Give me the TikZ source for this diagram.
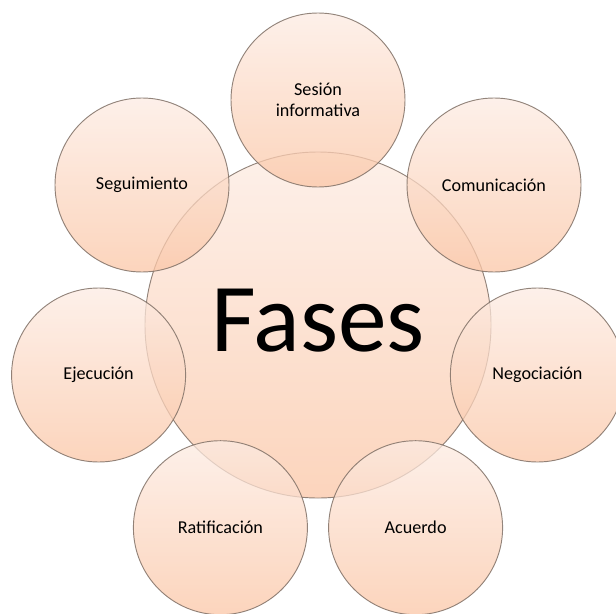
\documentclass[tikz,border=0pt]{standalone}
\usepackage{fontspec}
\setmainfont{Carlito}
\definecolor{bubtop}{RGB}{252,235,226}
\definecolor{bubbot}{RGB}{251,198,166}
\definecolor{bubline}{RGB}{128,112,102}
\begin{document}
\begin{tikzpicture}[x=0.75pt,y=-0.75pt]
\tikzset{
  bub/.style={circle, inner sep=0pt, draw=bubline, line width=0.7pt,
    top color=bubtop, bottom color=bubbot, fill opacity=0.75, draw opacity=0.85,
    text opacity=1, text=black, align=center,
    font=\fontsize{13.6}{16}\selectfont},
  small/.style={bub, minimum size=130.5pt},
  big/.style={bub, minimum size=259.5pt},
  bigtext/.style={text=black, inner sep=0pt, font=\fontsize{73}{80}\selectfont}
}
\useasboundingbox (0,0) rectangle (616,613);
\node[big] (c) at (318,325) {};
\node[bigtext] (fases) at (318,321) {Fases};
\node[small] (s1) at (318,100) {Sesión\\informativa};
\node[small] (s2) at (494,185) {Comunicación};
\node[small] (s3) at (537.4,375) {Negociación};
\node[small] (s4) at (415.6,527.7) {Acuerdo};
\node[small] (s5) at (220.4,527.7) {Ratificación};
\node[small] (s6) at (98.6,375) {Ejecución};
\node[small] (s7) at (142,185) {Seguimiento};
\end{tikzpicture}
\end{document}
